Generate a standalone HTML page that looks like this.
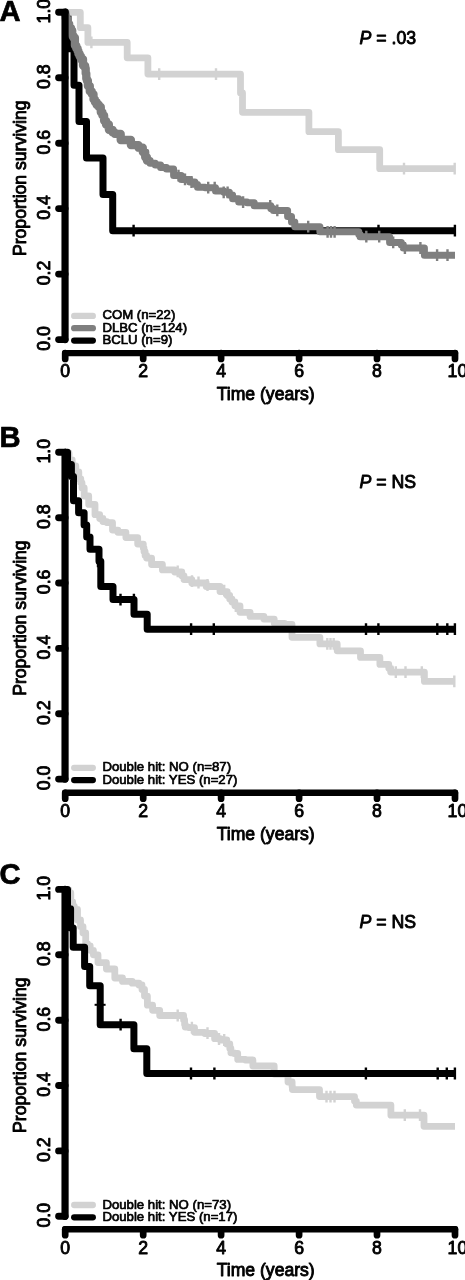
<!DOCTYPE html>
<html><head><meta charset="utf-8"><title>Figure</title>
<style>
html,body{margin:0;padding:0;background:#fff}
svg{display:block}
text{font-family:"Liberation Sans",Arial,Helvetica,sans-serif;fill:#000;stroke:#000;stroke-width:0.7px;stroke-linejoin:round}
.tk,.al,.pv{stroke-width:0.9px}
.tk{font-size:17.7px}
.al{font-size:17.6px}
.pl{font-size:29.2px;font-weight:bold;stroke-width:0.7px}
.pv{font-size:17.7px}
.lg{font-size:13.2px}
</style></head><body>
<svg width="465" height="1280" viewBox="0 0 465 1280">
<rect width="465" height="1280" fill="#fff"/>
<g id="curvesA" transform="translate(0 0.4)">
<path d="M65.0 12.0H68.0V48.4H74.0V84.8H79.0V121.2H86.5V157.6H103.0V194.0H112.7V230.3H455.0" stroke="#000" stroke-width="7.0" fill="none" stroke-linejoin="round" stroke-linecap="butt"/>
<path d="M133.6 224.4V236.2M378.5 224.4V236.2M454.9 224.4V236.2" stroke="#000" stroke-width="2.4" fill="none"/>
<path d="M65.0 12.0H80.3V27.3H87.9V42.0H127.2V57.4H147.9V73.7H240.5V92.6H242.5V111.9H308.9V131.3H338.4V149.3H379.7V168.3H455.0" stroke="#d2d2d2" stroke-width="6.8" fill="none" stroke-linejoin="round" stroke-linecap="butt"/>
<path d="M91.4 36.1V47.9M159.2 67.8V79.6M216.0 67.8V79.6M404.0 162.4V174.2M454.7 162.4V174.2" stroke="#d2d2d2" stroke-width="2.4" fill="none"/>
<path d="M65.0 12.0H65.3V14.6H65.8V18.0H67.1V23.5H69.2V27.5H71.0V30.1H72.2V35.4H73.4V37.3H74.9V45.2H76.3V48.0H77.6V50.6H78.4V53.3H79.6V55.9H80.9V58.8H83.0V65.2H85.1V67.8H85.7V73.1H86.3V78.4H86.9V80.3H87.9V85.6H89.8V91.0H91.8V93.7H93.5V99.0H94.9V101.6H96.6V104.3H98.8V106.6H100.8V111.9H102.4V115.0H104.1V120.3H106.0V124.1H108.9V129.4H112.5V132.0H114.7V133.5H120.7V139.6H130.9V144.7H138.5V147.3H142.8V151.6H145.2V156.9H146.9V160.2H148.2" stroke="#7f7f7f" stroke-width="8.3" fill="none" stroke-linejoin="round" stroke-linecap="butt"/>
<path d="M148.2 160.2H150.1V162.8H155.3V164.5H160.6V167.1H166.5V168.7H173.6V175.2H181.3V179.0H189.7V181.6H194.9V184.2H197.5V186.8H205.1V187.3H215.5V190.6H223.9V191.9H229.4V194.5H232.6V198.4H238.7V201.7H247.1V202.3H254.2V205.4H262.9H270.8V208.0H273.4V210.0H280.0H287.6V216.0H291.5V221.6H294.8V226.3H307.1H319.9V231.4H339.9H358.8V234.0H360.1V236.3H374.1H389.6V242.0H396.0H401.3V244.6H403.3V247.6H413.4H424.4V254.8H440.6H455.0" stroke="#7f7f7f" stroke-width="7.0" fill="none" stroke-linejoin="round" stroke-linecap="butt"/>
<path d="M178.5 169.3V181.1M185.0 173.1V184.9M191.5 175.7V187.5M208.2 181.4V193.2M214.7 181.4V193.2M223.7 186.0V197.8M227.6 186.0V197.8M243.1 195.8V207.6M270.2 199.5V211.3M277.3 204.1V215.9M308.2 220.4V232.2M327.6 225.5V237.3M331.0 225.5V237.3M334.6 225.5V237.3M366.3 230.4V242.2M379.2 230.4V242.2M393.2 236.1V247.9M404.9 241.7V253.5M420.4 241.7V253.5M437.1 248.9V260.7M447.5 248.9V260.7" stroke="#7f7f7f" stroke-width="2.4" fill="none"/>
</g>
<g id="curvesB">
<path d="M65.0 452.3H66.2V453.0H69.0V460.0H72.2V466.0H75.8V472.0H78.8V479.0H80.8V482.8H82.0V488.0H84.2V496.0H88.7V504.4H95.0V514.7H99.7V518.5H102.9V521.6H106.8V522.6H112.5V530.1H117.9V532.3H125.9V537.6H137.7V544.1H143.3V547.9H144.0V551.6H145.1V555.4H146.6V558.1H151.6V564.5H162.4V569.9H174.7V572.0H181.8V575.8H184.0V579.6H191.8V583.0H206.2V586.5H220.0V591.6H227.2V595.4H229.7V599.1H232.0V602.0H234.9V605.8H240.0V612.3H250.1V616.4H263.9V619.1H274.2V623.3H284.5V624.3H292.0V637.3H305.3H319.9V643.9H328.6H337.2V650.8H348.9H360.5V657.4H370.1H379.9V664.4H384.7H388.8V668.2H390.7V672.1H406.9H424.4V681.4H440.6H455.0" stroke="#d2d2d2" stroke-width="6.8" fill="none" stroke-linejoin="round" stroke-linecap="butt"/>
<path d="M177.7 565.4V577.2M192.0 575.3V587.1M198.5 576.6V588.4M207.5 579.1V590.9M224.2 584.7V596.5M235.8 600.1V611.9M327.3 638.0V649.8M330.5 638.0V649.8M333.7 638.0V649.8M395.8 666.2V678.0M405.5 666.2V678.0M421.8 666.2V678.0M454.3 675.5V687.3" stroke="#d2d2d2" stroke-width="2.4" fill="none"/>
<path d="M65.0 452.3H67.5V464.4H71.4V476.5H73.5V500.7H78.6V512.8H84.1V524.9H86.7V537.0H90.0V549.2H99.0V561.3H100.8V586.5H113.0V599.6H134.0V614.2H147.2V629.2H455.0" stroke="#000" stroke-width="7.0" fill="none" stroke-linejoin="round" stroke-linecap="butt"/>
<path d="M98.0 555.4V567.2M120.5 593.7V605.5M133.9 593.7V605.5M191.1 623.3V635.1M213.8 623.3V635.1M366.0 623.3V635.1M378.4 623.3V635.1M437.3 623.3V635.1M447.3 623.3V635.1M454.9 623.3V635.1" stroke="#000" stroke-width="2.4" fill="none"/>
</g>
<g id="curvesC">
<path d="M65.0 889.4H66.5V890.0H68.8V893.0H70.8V902.0H72.7V906.5H74.3V909.4H77.5V920.0H80.5V926.6H83.0V932.9H85.7V943.8H87.6V945.8H90.2V950.3H93.4V954.8H98.0V962.6H106.4V969.0H114.8V978.0H122.5V981.4H132.2V983.2H138.9V985.0H142.0V989.5H144.5V996.1H147.4V1005.2H152.6V1010.3H159.7V1015.5H173.2H183.6V1020.0H184.6V1024.5H185.2V1027.1H188.7V1027.6H194.5V1032.3H204.8V1033.5H214.6V1038.7H220.3V1040.0H226.8V1043.9H229.8V1048.4H230.9V1052.8H234.2V1053.5H237.7V1059.4H245.4V1060.0H252.9V1066.0H263.9H274.2V1074.0H281.1H288.0V1082.0H290.0H292.1V1086.5H292.4V1089.6H305.4H319.5V1096.6H337.3H354.5V1101.1H356.3V1105.1H373.2H390.9V1115.2H407.4H424.0V1126.3H440.5H455.0" stroke="#d2d2d2" stroke-width="6.8" fill="none" stroke-linejoin="round" stroke-linecap="butt"/>
<path d="M177.7 1009.6V1021.4M191.9 1021.7V1033.5M207.5 1027.3V1039.1M219.0 1033.1V1044.9M224.2 1034.1V1045.9M326.5 1090.7V1102.5M330.5 1090.7V1102.5M334.5 1090.7V1102.5M404.8 1109.3V1121.1M420.0 1109.3V1121.1" stroke="#d2d2d2" stroke-width="2.4" fill="none"/>
<path d="M65.0 889.4H67.5V908.7H70.6V927.9H73.2V947.2H84.6V966.4H89.7V985.7H100.2V1024.7H133.9V1048.8H146.8V1073.5H455.0" stroke="#000" stroke-width="7.0" fill="none" stroke-linejoin="round" stroke-linecap="butt"/>
<path d="M120.6 1018.8V1030.6M191.0 1067.6V1079.4M214.4 1067.6V1079.4M365.9 1067.6V1079.4M437.7 1067.6V1079.4M446.8 1067.6V1079.4M454.9 1067.6V1079.4" stroke="#000" stroke-width="2.4" fill="none"/>
<path d="M94.6 1004.8H105.6" stroke="#000" stroke-width="2"/>
</g>
<g>
<path d="M65.05 12.2V339.6" stroke="#000" stroke-width="7.2" stroke-linecap="round" fill="none"/>
<path d="M65.05 339.6H58.6M65.05 274.1H58.6M65.05 208.6H58.6M65.05 143.2H58.6M65.05 77.7H58.6M65.05 12.2H58.6" stroke="#000" stroke-width="6.9" stroke-linecap="round" fill="none"/>
<path d="M65.2 353.1H455.0" stroke="#000" stroke-width="6.4" stroke-linecap="round" fill="none"/>
<path d="M65.2 353.1V359.0M143.2 353.1V359.0M221.1 353.1V359.0M299.1 353.1V359.0M377.0 353.1V359.0M455.0 353.1V359.0" stroke="#000" stroke-width="6.7" stroke-linecap="round" fill="none"/>
<text class="tk" text-anchor="middle" transform="translate(50.2 338.5) rotate(-90)">0.0</text>
<text class="tk" text-anchor="middle" transform="translate(50.2 273.0) rotate(-90)">0.2</text>
<text class="tk" text-anchor="middle" transform="translate(50.2 207.5) rotate(-90)">0.4</text>
<text class="tk" text-anchor="middle" transform="translate(50.2 142.1) rotate(-90)">0.6</text>
<text class="tk" text-anchor="middle" transform="translate(50.2 76.6) rotate(-90)">0.8</text>
<text class="tk" text-anchor="middle" transform="translate(50.2 11.1) rotate(-90)">1.0</text>
<text class="tk" text-anchor="middle" x="65.2" y="377.4">0</text>
<text class="tk" text-anchor="middle" x="143.2" y="377.4">2</text>
<text class="tk" text-anchor="middle" x="221.1" y="377.4">4</text>
<text class="tk" text-anchor="middle" x="299.1" y="377.4">6</text>
<text class="tk" text-anchor="middle" x="377.0" y="377.4">8</text>
<text class="tk" text-anchor="middle" x="457.4" y="377.4">10</text>
<text class="al" text-anchor="middle" x="265.7" y="400.1">Time (years)</text>
<text class="al" text-anchor="middle" transform="translate(25.6 178.3) rotate(-90)">Proportion surviving</text>
<text class="pl" x="-0.4" y="21.4">A</text>
<text class="pv" x="359.5" y="44.0"><tspan font-style="italic">P</tspan> = .03</text>
<path d="M74.2 315.9H92.8" stroke="#d2d2d2" stroke-width="6.3" stroke-linecap="round"/>
<text class="lg" x="102.4" y="319.4">COM (n=22)</text>
<path d="M74.2 328.2H92.8" stroke="#7f7f7f" stroke-width="6.3" stroke-linecap="round"/>
<text class="lg" x="102.4" y="331.8">DLBC (n=124)</text>
<path d="M74.2 340.6H92.8" stroke="#000" stroke-width="6.3" stroke-linecap="round"/>
<text class="lg" x="102.4" y="344.1">BCLU (n=9)</text>
</g>
<g>
<path d="M65.05 452.3V779.1" stroke="#000" stroke-width="7.2" stroke-linecap="round" fill="none"/>
<path d="M65.05 779.1H58.6M65.05 713.7H58.6M65.05 648.4H58.6M65.05 583.0H58.6M65.05 517.7H58.6M65.05 452.3H58.6" stroke="#000" stroke-width="6.9" stroke-linecap="round" fill="none"/>
<path d="M65.2 792.8H455.0" stroke="#000" stroke-width="6.4" stroke-linecap="round" fill="none"/>
<path d="M65.2 792.8V798.7M143.2 792.8V798.7M221.1 792.8V798.7M299.1 792.8V798.7M377.0 792.8V798.7M455.0 792.8V798.7" stroke="#000" stroke-width="6.7" stroke-linecap="round" fill="none"/>
<text class="tk" text-anchor="middle" transform="translate(50.2 778.0) rotate(-90)">0.0</text>
<text class="tk" text-anchor="middle" transform="translate(50.2 712.6) rotate(-90)">0.2</text>
<text class="tk" text-anchor="middle" transform="translate(50.2 647.3) rotate(-90)">0.4</text>
<text class="tk" text-anchor="middle" transform="translate(50.2 581.9) rotate(-90)">0.6</text>
<text class="tk" text-anchor="middle" transform="translate(50.2 516.6) rotate(-90)">0.8</text>
<text class="tk" text-anchor="middle" transform="translate(50.2 451.2) rotate(-90)">1.0</text>
<text class="tk" text-anchor="middle" x="65.2" y="817.1">0</text>
<text class="tk" text-anchor="middle" x="143.2" y="817.1">2</text>
<text class="tk" text-anchor="middle" x="221.1" y="817.1">4</text>
<text class="tk" text-anchor="middle" x="299.1" y="817.1">6</text>
<text class="tk" text-anchor="middle" x="377.0" y="817.1">8</text>
<text class="tk" text-anchor="middle" x="457.4" y="817.1">10</text>
<text class="al" text-anchor="middle" x="265.7" y="839.8">Time (years)</text>
<text class="al" text-anchor="middle" transform="translate(25.6 618.1) rotate(-90)">Proportion surviving</text>
<text class="pl" x="-0.4" y="447.0">B</text>
<text class="pv" x="359.5" y="488.0"><tspan font-style="italic">P</tspan> = NS</text>
<path d="M74.2 767.8H92.8" stroke="#d2d2d2" stroke-width="6.3" stroke-linecap="round"/>
<text class="lg" x="102.4" y="771.2">Double hit: NO (n=87)</text>
<path d="M74.2 780.1H92.8" stroke="#000" stroke-width="6.3" stroke-linecap="round"/>
<text class="lg" x="102.4" y="783.6">Double hit: YES (n=27)</text>
</g>
<g>
<path d="M65.05 889.4V1216.3" stroke="#000" stroke-width="7.2" stroke-linecap="round" fill="none"/>
<path d="M65.05 1216.3H58.6M65.05 1150.9H58.6M65.05 1085.5H58.6M65.05 1020.2H58.6M65.05 954.8H58.6M65.05 889.4H58.6" stroke="#000" stroke-width="6.9" stroke-linecap="round" fill="none"/>
<path d="M65.2 1229.3H455.0" stroke="#000" stroke-width="6.4" stroke-linecap="round" fill="none"/>
<path d="M65.2 1229.3V1235.2M143.2 1229.3V1235.2M221.1 1229.3V1235.2M299.1 1229.3V1235.2M377.0 1229.3V1235.2M455.0 1229.3V1235.2" stroke="#000" stroke-width="6.7" stroke-linecap="round" fill="none"/>
<text class="tk" text-anchor="middle" transform="translate(50.2 1215.2) rotate(-90)">0.0</text>
<text class="tk" text-anchor="middle" transform="translate(50.2 1149.8) rotate(-90)">0.2</text>
<text class="tk" text-anchor="middle" transform="translate(50.2 1084.4) rotate(-90)">0.4</text>
<text class="tk" text-anchor="middle" transform="translate(50.2 1019.1) rotate(-90)">0.6</text>
<text class="tk" text-anchor="middle" transform="translate(50.2 953.7) rotate(-90)">0.8</text>
<text class="tk" text-anchor="middle" transform="translate(50.2 888.3) rotate(-90)">1.0</text>
<text class="tk" text-anchor="middle" x="65.2" y="1253.6">0</text>
<text class="tk" text-anchor="middle" x="143.2" y="1253.6">2</text>
<text class="tk" text-anchor="middle" x="221.1" y="1253.6">4</text>
<text class="tk" text-anchor="middle" x="299.1" y="1253.6">6</text>
<text class="tk" text-anchor="middle" x="377.0" y="1253.6">8</text>
<text class="tk" text-anchor="middle" x="457.4" y="1253.6">10</text>
<text class="al" text-anchor="middle" x="265.7" y="1276.3">Time (years)</text>
<text class="al" text-anchor="middle" transform="translate(25.6 1055.2) rotate(-90)">Proportion surviving</text>
<text class="pl" x="-0.4" y="884.4">C</text>
<text class="pv" x="359.5" y="928.2"><tspan font-style="italic">P</tspan> = NS</text>
<path d="M74.2 1205.0H92.8" stroke="#d2d2d2" stroke-width="6.3" stroke-linecap="round"/>
<text class="lg" x="102.4" y="1208.5">Double hit: NO (n=73)</text>
<path d="M74.2 1217.3H92.8" stroke="#000" stroke-width="6.3" stroke-linecap="round"/>
<text class="lg" x="102.4" y="1220.8">Double hit: YES (n=17)</text>
</g>
</svg>
</body></html>
